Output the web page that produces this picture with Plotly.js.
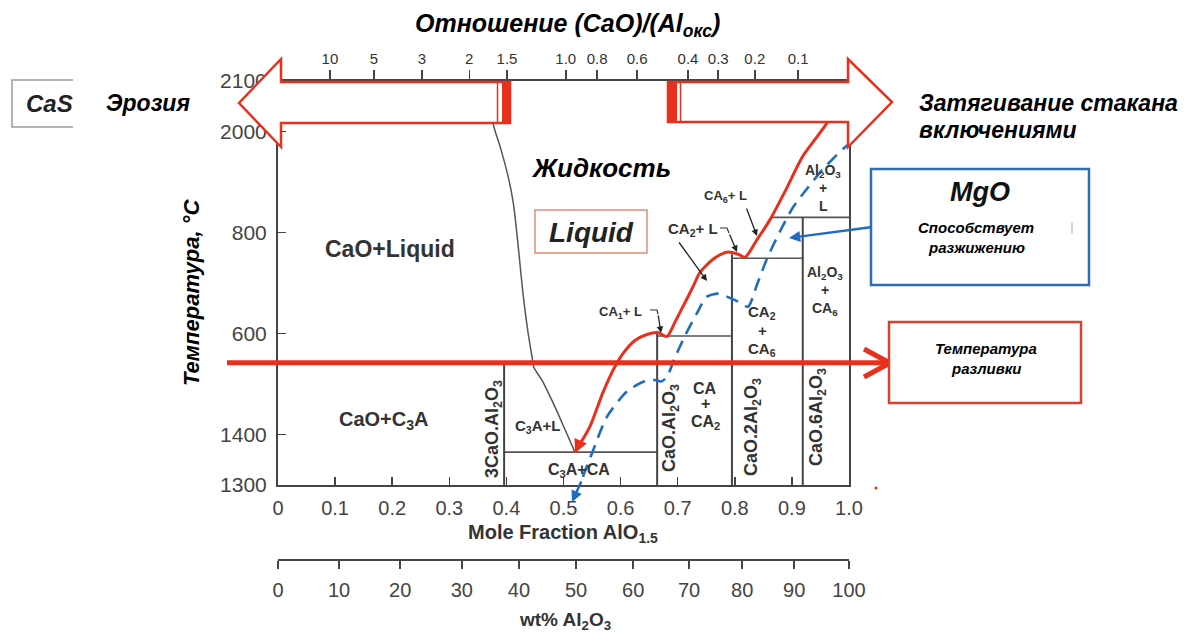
<!DOCTYPE html>
<html><head><meta charset="utf-8">
<script src="https://cdn.plot.ly/plotly-3.0.1.min.js"></script>
<style>html,body{margin:0;padding:0;background:#fff}</style>
</head><body><div id="chart" style="width:1203px;height:637px"></div>
<script>
// ---------- data ----------
const tempTickVals = [1300, 1400, 1600, 1800, 2000, 2100];
const tempTickText = ['1300', '1400', '600', '800', '2000', '2100'];
const moleTickVals = [0, 0.1, 0.2, 0.3, 0.4, 0.5, 0.6, 0.7, 0.8, 0.9, 1.0];
const moleTickText = ['0', '0.1', '0.2', '0.3', '0.4', '0.5', '0.6', '0.7', '0.8', '0.9', '1.0'];
const wtTickText = ['0', '10', '20', '30', '40', '50', '60', '70', '80', '90', '100'];
const wtTickPos = [0, 0.107, 0.214, 0.322, 0.422, 0.522, 0.622, 0.720, 0.813, 0.904, 1.0];
const ratioTickText = ['10', '5', '3', '2', '1.5', '1.0', '0.8', '0.6', '0.4', '0.3', '0.2', '0.1'];
const ratioTickPos = [0.091, 0.168, 0.252, 0.335, 0.401, 0.504, 0.559, 0.629, 0.718, 0.771, 0.835, 0.911];

// CaO liquidus (black)
const caoLiqX = [0.372, 0.377, 0.389, 0.403, 0.412, 0.420, 0.429, 0.438, 0.445, 0.448, 0.462, 0.482, 0.503, 0.520];
const caoLiqT = [2060, 2014, 1970, 1911, 1859, 1780, 1680, 1601, 1553, 1533, 1508, 1462, 1409, 1365];
// liquidus on Al2O3-rich side (red)
const liqX = [0.520, 0.546, 0.569, 0.590, 0.606, 0.625, 0.646, 0.665, 0.681, 0.695, 0.709, 0.727, 0.739, 0.762, 0.786, 0.806, 0.818, 0.839, 0.862, 0.890, 0.919, 0.958, 0.980];
const liqT = [1365, 1415, 1483, 1534, 1563, 1586, 1598, 1602, 1594, 1622, 1653, 1693, 1721, 1747, 1761, 1757, 1751, 1786, 1826, 1886, 1951, 2011, 2050];
// liquidus shifted by MgO (blue dashed)
const mgoX = [0.524, 0.534, 0.552, 0.576, 0.611, 0.639, 0.660, 0.671, 0.681, 0.695, 0.713, 0.734, 0.751, 0.771, 0.786, 0.806, 0.823, 0.839, 0.856, 0.879, 0.902, 0.926, 0.954, 0.989, 1.0];
const mgoT = [1276, 1316, 1369, 1435, 1485, 1504, 1508, 1505, 1514, 1552, 1596, 1641, 1673, 1679, 1673, 1663, 1653, 1697, 1747, 1802, 1850, 1886, 1925, 1965, 1975];
// compounds (vertical lines)
const compoundX = [0.396, 0.664, 0.795, 0.919];
const compoundTopT = [1540, 1602, 1757, 1830];
// invariant horizontals
const invariantT = [1540, 1365, 1595, 1749, 1830];
const invariantX0 = [0, 0.396, 0.664, 0.795, 0.862];
const invariantX1 = [0.396, 0.664, 0.795, 0.919, 1.0];
const castingT = 1542;

// ---------- geometry helpers (decorations only) ----------
const L = 278, R = 849, TOP = 81, BOT = 560, YBOT = 485;
const dom0 = (BOT - YBOT) / (BOT - TOP);
const px = x => (x - L) / (R - L);
const py = y => (BOT - y) / (BOT - TOP);
const pT = T => dom0 + (T - 1300) / 800 * (1 - dom0);
const path = (pts, close) => 'M ' + pts.map(p => px(p[0]) + ',' + py(p[1])).join(' L ') + (close ? ' Z' : '');

const RED = '#e8301c', BLUE = '#1f6cc0', DARK = '#444', FONT = 'Liberation Sans, Arial, sans-serif';

// ---------- traces ----------
const traces = [];
for (let i = 0; i < invariantT.length; i++) {
  traces.push({x: [invariantX0[i], invariantX1[i]], y: [invariantT[i], invariantT[i]], mode: 'lines',
    line: {color: '#555', width: 1.6}, hoverinfo: 'skip'});
}
for (let i = 0; i < compoundX.length; i++) {
  traces.push({x: [compoundX[i], compoundX[i]], y: [1300, compoundTopT[i]], mode: 'lines',
    line: {color: '#444', width: 2}, hoverinfo: 'skip'});
}
traces.push({x: caoLiqX, y: caoLiqT, mode: 'lines', line: {color: '#555', width: 1.5, shape: 'spline', smoothing: 0.8}, hoverinfo: 'skip'});
traces.push({x: mgoX, y: mgoT, mode: 'lines', line: {color: BLUE, width: 2.6, dash: '13px,8px', shape: 'spline', smoothing: 0.7}, hoverinfo: 'skip'});
traces.push({x: liqX, y: liqT, mode: 'lines', line: {color: RED, width: 3, shape: 'spline', smoothing: 0.7}, hoverinfo: 'skip'});
traces.push({x: [0, 1], y: [1300, 1300], xaxis: 'x2', yaxis: 'y', mode: 'lines', line: {width: 0}, opacity: 0, hoverinfo: 'skip'});
traces.push({x: [0, 1], y: [1300, 1300], xaxis: 'x3', yaxis: 'y', mode: 'lines', line: {width: 0}, opacity: 0, hoverinfo: 'skip'});

// ---------- shapes ----------
const shapes = [];
shapes.push({type: 'path', xref: 'paper', yref: 'paper', layer: 'above',
  path: path([[510, 82], [281, 82], [281, 59], [239, 103], [281, 147], [281, 123], [510, 123]], true),
  line: {color: RED, width: 2.5}, fillcolor: 'white'});
shapes.push({type: 'rect', xref: 'paper', yref: 'paper', layer: 'above', x0: px(502), x1: px(510), y0: py(82), y1: py(123), line: {width: 0}, fillcolor: RED});
shapes.push({type: 'line', xref: 'paper', yref: 'paper', layer: 'above', x0: px(497.5), x1: px(497.5), y0: py(82), y1: py(123), line: {color: RED, width: 1.5}});
shapes.push({type: 'path', xref: 'paper', yref: 'paper', layer: 'above',
  path: path([[668, 82], [848, 82], [848, 59], [892, 102], [848, 147], [848, 122], [668, 122]], true),
  line: {color: RED, width: 2.5}, fillcolor: 'white'});
shapes.push({type: 'rect', xref: 'paper', yref: 'paper', layer: 'above', x0: px(668), x1: px(677), y0: py(82), y1: py(122), line: {width: 0}, fillcolor: RED});
shapes.push({type: 'line', xref: 'paper', yref: 'paper', layer: 'above', x0: px(680.5), x1: px(680.5), y0: py(82), y1: py(122), line: {color: RED, width: 1.5}});
shapes.push({type: 'line', xref: 'paper', yref: 'paper', layer: 'above', x0: px(227), x1: px(886), y0: pT(castingT), y1: pT(castingT), line: {color: RED, width: 5}});
shapes.push({type: 'path', xref: 'paper', yref: 'paper', layer: 'above', path: path([[864, 349], [890, 363], [864, 377]], false), line: {color: RED, width: 5}});
shapes.push({type: 'rect', xref: 'paper', yref: 'paper', layer: 'above', x0: px(871), x1: px(1089), y0: py(169), y1: py(285), line: {color: '#2f6db3', width: 2.5}, fillcolor: 'white'});
shapes.push({type: 'rect', xref: 'paper', yref: 'paper', layer: 'above', x0: px(889), x1: px(1081), y0: py(322), y1: py(403), line: {color: '#d9412e', width: 2.5}, fillcolor: 'white'});
shapes.push({type: 'rect', xref: 'paper', yref: 'paper', layer: 'above', x0: px(535), x1: px(647), y0: py(210), y1: py(253), line: {color: '#e28c78', width: 1.5}, fillcolor: 'white'});
shapes.push({type: 'path', xref: 'paper', yref: 'paper', layer: 'above', path: path([[73, 80], [12, 80], [12, 127], [73, 127]], false), line: {color: '#9a9a9a', width: 1.5}});
shapes.push({type: 'path', xref: 'paper', yref: 'paper', layer: 'above', path: path([[650, 310], [657, 310], [658, 314]], false), line: {color: '#333', width: 1.2}});
shapes.push({type: 'path', xref: 'paper', yref: 'paper', layer: 'above', path: path([[720, 228], [727, 228], [729, 233]], false), line: {color: '#333', width: 1.2}});
shapes.push({type: 'circle', xref: 'paper', yref: 'paper', layer: 'above', x0: px(874.5), x1: px(877.5), y0: py(486.5), y1: py(489.5), line: {width: 0}, fillcolor: RED});
shapes.push({type: 'line', xref: 'paper', yref: 'paper', layer: 'above', x0: px(1072), x1: px(1072), y0: py(222), y1: py(234), line: {color: '#aaa', width: 1}});

// ---------- annotations ----------
const ann = [];
function txt(x, y, text, size, opts) {
  ann.push(Object.assign({xref: 'paper', yref: 'paper', x: px(x), y: py(y), text: text, showarrow: false,
    xanchor: 'center', yanchor: 'middle', font: {family: FONT, size: size, color: '#000'}}, opts || {}));
}
function arrow(x0, y0, x1, y1, color, width, head, size) {
  ann.push({xref: 'paper', yref: 'paper', x: px(x1), y: py(y1), ax: x0 - x1, ay: y0 - y1, text: '',
    showarrow: true, arrowhead: head, arrowsize: size, arrowwidth: width, arrowcolor: color, standoff: 0, startstandoff: 0});
}
const BI = s => '<b><i>' + s + '</i></b>';
txt(567, 25, BI('Отношение (CaO)/(Al<sub>окс</sub>)'), 25);
txt(49, 104, BI('CaS'), 24, {font: {family: FONT, size: 24, color: '#222'}});
txt(148, 103, BI('Эрозия'), 23);
txt(917, 103, BI('Затягивание стакана'), 23, {xanchor: 'left'});
txt(917, 130, BI('включениями'), 23, {xanchor: 'left'});
txt(601, 168, BI('Жидкость'), 26);
txt(591, 232, BI('Liquid'), 28, {font: {family: FONT, size: 28, color: '#222'}});
txt(980, 192, BI('MgO'), 27, {font: {family: FONT, size: 27, color: '#111'}});
txt(976, 227, BI('Способствует'), 15);
txt(976, 247, BI('разжижению'), 15);
txt(986, 348, BI('Температура'), 15);
txt(986, 368, BI('разливки'), 15);
txt(191, 293, BI('Температура, °С'), 22, {textangle: -90});
txt(563, 533, '<b>Mole Fraction AlO<sub>1.5</sub></b>', 20, {font: {family: FONT, size: 20, color: '#333'}});
txt(565, 621, '<b>wt% Al<sub>2</sub>O<sub>3</sub></b>', 19, {font: {family: FONT, size: 19, color: '#333'}});

const lab = (x, y, t, s, extra) => txt(x, y, '<b>' + t + '</b>', s, Object.assign({font: {family: FONT, size: s, color: '#333'}}, extra || {}));
lab(390, 249, 'CaO+Liquid', 23);
lab(384, 420, 'CaO+C<sub>3</sub>A', 20);
lab(493, 429, '3CaO.Al<sub>2</sub>O<sub>3</sub>', 18, {textangle: -90});
lab(537, 426, 'C<sub>3</sub>A+L', 15);
lab(579, 470, 'C<sub>3</sub>A+CA', 16);
lab(670, 428, 'CaO.Al<sub>2</sub>O<sub>3</sub>', 18, {textangle: -90});
lab(752, 427, 'CaO.2Al<sub>2</sub>O<sub>3</sub>', 18, {textangle: -90});
lab(817, 417, 'CaO.6Al<sub>2</sub>O<sub>3</sub>', 18, {textangle: -90});
lab(705, 388, 'CA', 16); lab(705, 404, '+', 16); lab(705, 422, 'CA<sub>2</sub>', 16);
lab(762, 312, 'CA<sub>2</sub>', 15); lab(762, 330, '+', 15); lab(762, 349, 'CA<sub>6</sub>', 15);
lab(825, 273, 'Al<sub>2</sub>O<sub>3</sub>', 14); lab(825, 290, '+', 14); lab(825, 309, 'CA<sub>6</sub>', 14);
lab(823, 171, 'Al<sub>2</sub>O<sub>3</sub>', 14); lab(823, 188, '+', 14); lab(823, 206, 'L', 14);
lab(620, 312, 'CA<sub>1</sub>+ L', 13);
lab(693, 229, 'CA<sub>2</sub>+ L', 15);
lab(725, 197, 'CA<sub>6</sub>+ L', 13);

arrow(658, 314, 661, 333, '#222', 1.3, 2, 1);
arrow(729, 233, 737, 252, '#222', 1.3, 2, 1);
arrow(678, 241, 707, 281, '#222', 1.3, 2, 1);
arrow(746, 207, 757, 236, '#222', 1.3, 2, 1);
arrow(872, 227, 789, 238, BLUE, 2.5, 2, 0.9);
arrow(581, 440, 575, 453, RED, 3, 2, 0.9);
arrow(582, 480, 572, 502, BLUE, 2.5, 2, 0.9);

// ---------- layout ----------
const axBase = {showgrid: false, zeroline: false, showline: true, linecolor: DARK, linewidth: 2, tickcolor: DARK, tickwidth: 1.5};
const layout = {
  width: 1203, height: 637, paper_bgcolor: 'white', plot_bgcolor: 'white', showlegend: false,
  margin: {l: L, r: 1203 - R, t: TOP, b: 637 - BOT, pad: 0},
  xaxis: Object.assign({}, axBase, {domain: [0, 1], range: [0, 1], anchor: 'y', tickmode: 'array', tickvals: moleTickVals, ticktext: moleTickText,
    ticks: 'inside', ticklen: 8, ticklabelstandoff: 4, tickfont: {family: FONT, size: 20, color: '#444'}}),
  xaxis2: Object.assign({}, axBase, {overlaying: 'x', anchor: 'free', position: 0, side: 'bottom', range: [0, 1], tickmode: 'array', tickvals: wtTickPos, ticktext: wtTickText,
    ticks: 'outside', ticklen: 8, ticklabelstandoff: 4, tickfont: {family: FONT, size: 20, color: '#444'}}),
  xaxis3: Object.assign({}, axBase, {overlaying: 'x', anchor: 'y', side: 'top', range: [0, 1], tickmode: 'array', tickvals: ratioTickPos, ticktext: ratioTickText,
    ticks: 'outside', ticklen: 9, tickfont: {family: FONT, size: 15, color: '#333'}}),
  yaxis: Object.assign({}, axBase, {domain: [dom0, 1], range: [1300, 2100], mirror: true, tickmode: 'array', tickvals: tempTickVals, ticktext: tempTickText,
    ticks: 'inside', ticklen: 8, ticklabelstandoff: 5, tickfont: {family: FONT, size: 21, color: '#444'}}),
  shapes: shapes,
  annotations: ann
};
Plotly.newPlot('chart', traces, layout, {displayModeBar: false, staticPlot: true});
</script></body></html>
